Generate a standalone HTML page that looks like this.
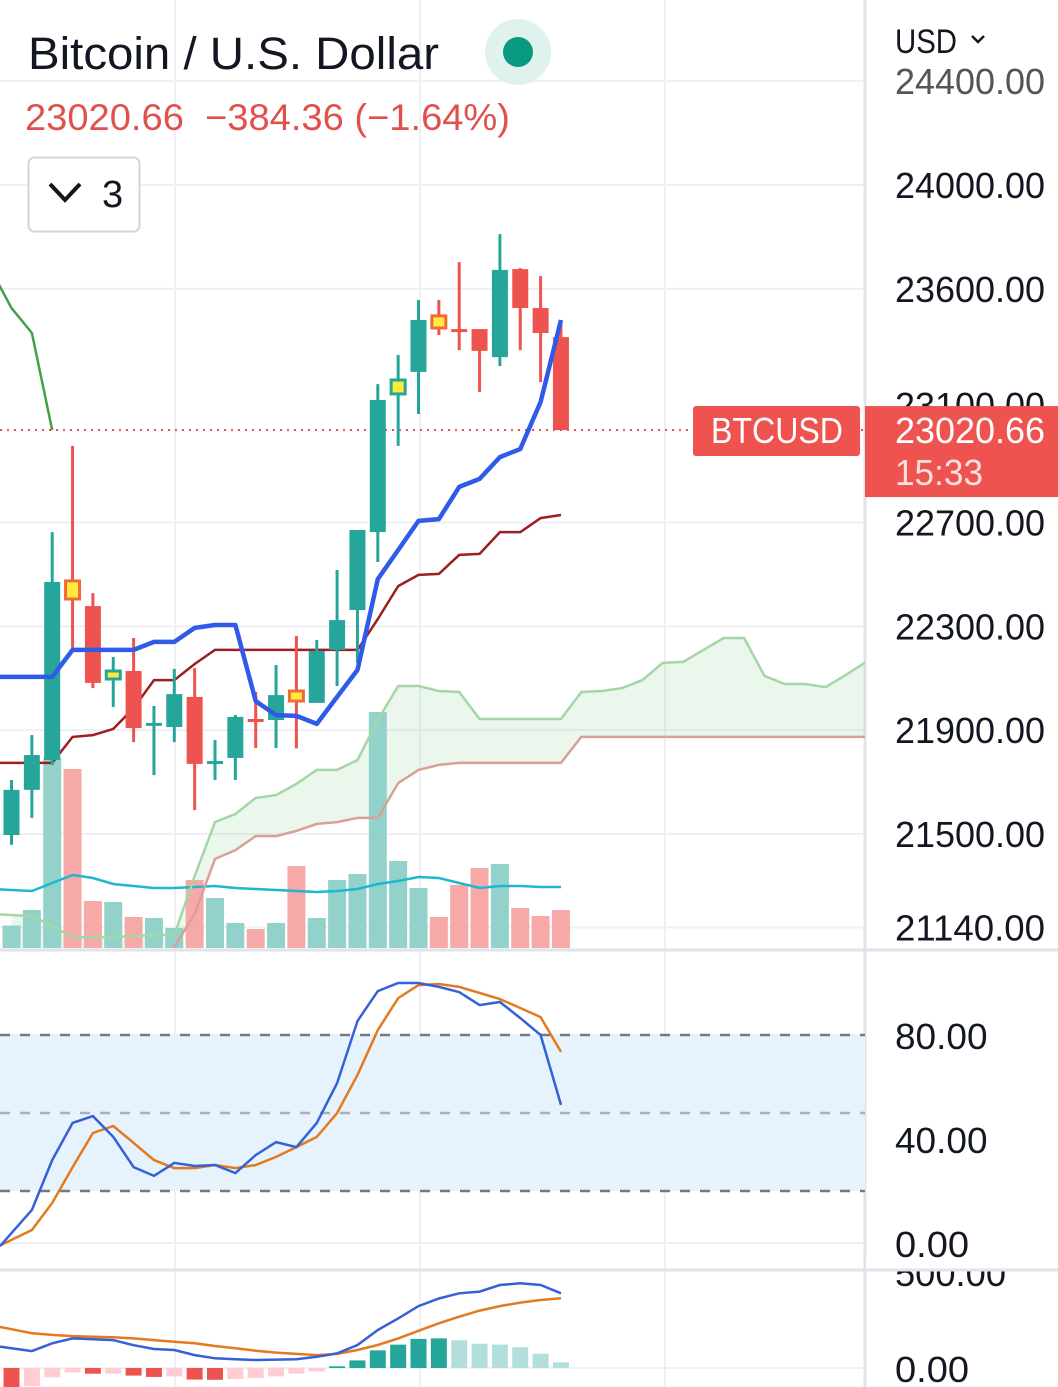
<!DOCTYPE html>
<html><head><meta charset="utf-8"><style>
html,body{margin:0;padding:0;background:#fff;}
svg{display:block;font-family:"Liberation Sans",sans-serif;}
</style></head><body>
<svg id="chart" width="1058" height="1387" viewBox="0 0 1058 1387" xmlns="http://www.w3.org/2000/svg">
<defs>
<clipPath id="pricePane"><rect x="0" y="0" width="865" height="948"/></clipPath>
<clipPath id="stochPane"><rect x="0" y="952" width="865" height="316"/></clipPath>
<clipPath id="macdPane"><rect x="0" y="1272" width="865" height="115"/></clipPath>
</defs>
<g id="grid"></g>
<g id="price" clip-path="url(#pricePane)"></g>
<g id="stoch" clip-path="url(#stochPane)"></g>
<g id="macd" clip-path="url(#macdPane)"></g>
<g id="axis"></g>
<g id="header">
<text x="28" y="69" font-size="45" fill="#131722" textLength="411" lengthAdjust="spacingAndGlyphs">Bitcoin / U.S. Dollar</text>
<circle cx="518" cy="52" r="33" fill="#dff2ee"/>
<circle cx="518" cy="52" r="15" fill="#089981"/>
<text x="25" y="130" font-size="37" fill="#e0504d" textLength="485" lengthAdjust="spacingAndGlyphs" xml:space="preserve">23020.66  −384.36 (−1.64%)</text>
<rect x="28.5" y="157.5" width="111" height="74" rx="6" fill="#fff" stroke="#d1d4dc" stroke-width="2"/>
<polyline points="50,184 65,200 80,184" fill="none" stroke="#131722" stroke-width="4"/>
<text x="102" y="207" font-size="38" fill="#131722">3</text>
</g>
</svg>
<script>
// ---- data ----
const opens  = [21496,21670,21785,22409,22378,22105,22128,21920,21912,22028,21774,21793,21943,21939,22016,22005,22209,22363,22663,23199,23280,23453,23445,23445,23337,23676,23526,23414];
const highs  = [21708,21881,22663,22995,22428,22182,22255,21993,22136,22139,21862,21959,22047,22151,22263,22247,22517,22671,23233,23345,23557,23557,23703,23445,23811,23680,23649,23468];
const lows   = [21458,21562,21766,22209,22062,21989,21854,21727,21854,21592,21708,21708,21831,21831,21830,22005,22070,22159,22548,22995,23118,23422,23364,23203,23303,23364,23241,23056];
const closes = [21670,21804,22471,22471,22082,22124,21908,21928,22039,21770,21781,21951,21935,22035,22047,22205,22324,22671,23172,23245,23480,23492,23441,23361,23673,23526,23430,23056];
const markers = ["", "", "", "orange", "", "green", "", "", "", "", "", "", "", "", "orange", "", "", "", "", "green", "", "orange", "", "", "", "", "", ""];
const volumes = [225,380,1900,1790,470,460,310,300,200,680,500,250,190,250,820,300,680,740,2360,870,600,310,630,800,840,400,320,380];
const volUp   = [1,1,1,0,0,1,0,1,1,0,1,1,0,1,0,1,1,1,1,1,1,0,0,0,1,0,0,0];
const volMA   = [580,570,650,730,700,640,620,600,600,610,620,600,590,580,570,560,570,590,640,670,710,700,650,600,620,620,610,610];
const tenkan  = [22105,22105,22105,22209,22209,22209,22209,22240,22240,22294,22305,22305,22012,21958,21955,21924,22028,22132,22482,22594,22706,22713,22837,22868,22952,22983,23164,23480];
const kijun   = [21774,21774,21774,21874,21881,21905,21985,22093,22093,22155,22209,22209,22209,22209,22209,22209,22209,22209,22328,22455,22498,22502,22575,22579,22663,22663,22717,22729];
const senkouA = [21188,21184,21146,21103,21103,21103,21107,21111,21111,21338,21546,21577,21639,21650,21693,21747,21747,21785,21939,22070,22070,22051,22047,21943,21943,21943,21943,21943,22047,22051,22062,22093,22159,22163,22209,22255,22255,22109,22078,22078,22066,22113,22163];
const senkouB = [20950,20950,20950,20950,20950,20950,20950,20950,21065,21192,21404,21438,21492,21492,21512,21539,21546,21562,21562,21696,21747,21766,21774,21774,21774,21774,21774,21774,21874,21874,21874,21874,21874,21874,21874,21874,21874,21874,21874,21874,21874,21874,21874];
const stochK  = [3.8,12.7,31.9,46.2,48.8,40.8,29.2,25.8,30.8,29.6,30.0,26.9,33.8,38.8,36.9,46.2,61.5,85.4,96.9,100,100,98.5,96.5,91.5,92.7,86.5,80,53.1];
const stochD  = [1.2,5.0,15.4,29.2,42.3,45.0,38.5,31.9,28.8,28.8,30.0,28.8,30.0,33.1,36.9,40.8,50.0,64.6,81.9,94.2,99.2,99.6,98.5,96.2,93.8,90.4,86.9,73.5];
const macdLine= [104,89,130,156,151,147,120,100,95,68,51,46,42,44,46,59,77,121,200,261,326,366,393,402,437,446,437,393];
const signalLine=[204,183,174,168,165,162,156,147,138,130,116,104,91,81,74,68,74,95,121,156,196,235,270,302,326,344,358,367];
const histogram=[-100,-96,-49,-23,-30,-30,-40,-47,-44,-61,-62,-58,-53,-44,-30,-18,9,40,93,123,153,156,146,128,123,109,75,30];
const priceTicks = [24400,24000,23600,22700,22300,21900,21500,21140];
const priceTickLabels = ["24400.00","24000.00","23600.00","22700.00","22300.00","21900.00","21500.00","21140.00"];
const stochTicks = [80,40,0];
const stochTickLabels = ["80.00","40.00","0.00"];
const stochBands = [80,50,20];
const macdTicks = [500,0];
const macdTickLabels = ["500.00","0.00"];
const lastPrice = closes[closes.length - 1];

// ---- scales ----
const NS = "http://www.w3.org/2000/svg";
const xI = i => 11.5 + i * 20.35;
const yP = p => 185 + (24000 - p) * 0.2596;
const yV = v => 948 - v * 0.1;
const yS = v => 1243 - v * 2.6;
const yM = v => 1368 - v * 0.19;
function mk(parent, tag, attrs) {
  const el = document.createElementNS(NS, tag);
  for (const k in attrs) el.setAttribute(k, attrs[k]);
  parent.appendChild(el);
  return el;
}
function pathFrom(arr, ys, off, extend) {
  let d = arr.map((v, i) => (i ? "L" : "M") + xI(i + (off || 0)).toFixed(1) + "," + ys(v).toFixed(1)).join(" ");
  if (extend) {
    // extend from left edge using slope of first segment
    const y0 = ys(arr[0]), y1 = ys(arr[1]);
    const yl = y0 - (y1 - y0) * (xI(0) / 20.35);
    d = "M0," + yl.toFixed(1) + " L" + d.slice(1);
  }
  return d;
}
const grid = document.getElementById("grid");
const price = document.getElementById("price");
const stoch = document.getElementById("stoch");
const macd = document.getElementById("macd");
const axis = document.getElementById("axis");

// grid
[175, 420, 665].forEach(x => {
  const l = mk(grid, "line", {x1: x, x2: x, y1: 0, y2: 1387, stroke: "#eef0f3", "stroke-width": 2});
  
  
});
priceTicks.forEach(p => {
  const l = mk(grid, "line", {x1: 0, x2: 865, y1: yP(p), y2: yP(p), stroke: "#eef0f3", "stroke-width": 2});
  
  
});
stochTicks.forEach(v => {
  const l = mk(grid, "line", {x1: 0, x2: 865, y1: yS(v), y2: yS(v), stroke: "#eef0f3", "stroke-width": 2});
  
  
});
const sep1 = mk(grid, "line", {x1: 0, x2: 1058, y1: 950, y2: 950, stroke: "#e0e3eb", "stroke-width": 3});


const sep2 = mk(grid, "line", {x1: 0, x2: 1058, y1: 1270, y2: 1270, stroke: "#e0e3eb", "stroke-width": 3});


const vsep = mk(grid, "line", {x1: 865, x2: 865, y1: 0, y2: 1387, stroke: "#e0e3eb", "stroke-width": 3});


const mz = mk(grid, "line", {x1: 0, x2: 865, y1: yM(0), y2: yM(0), stroke: "#eef0f3", "stroke-width": 2});



// cloud fill
(function () {
  let d = senkouA.map((v, i) => (i ? "L" : "M") + xI(i) + "," + yP(v)).join(" ");
  for (let i = senkouB.length - 1; i >= 0; i--) d += " L" + xI(i) + "," + yP(senkouB[i]);
  const c = mk(price, "path", {d: d + " Z", fill: "rgba(165,214,167,0.22)"});
  
  
})();

// volume
volumes.forEach((v, i) => {
  const r = mk(price, "rect", {x: xI(i) - 9, y: yV(v), width: 18, height: 948 - yV(v), fill: volUp[i] ? "#92d2ca" : "#f7a9a8"});
  
  
});
const vma = mk(price, "path", {d: pathFrom(volMA, yV, 0, true), fill: "none", stroke: "#1fb7cf", "stroke-width": 2.5});



const sa = mk(price, "path", {d: pathFrom(senkouA, yP, 0, true), fill: "none", stroke: "#a5d6a7", "stroke-width": 2.5});


const sb = mk(price, "path", {d: pathFrom(senkouB, yP), fill: "none", stroke: "#d9a097", "stroke-width": 2.5});



// chikou: closes shifted back 25 periods
const chik = closes.slice(24);
const ch = mk(price, "path", {d: pathFrom(chik, yP, -1), fill: "none", stroke: "#43a047", "stroke-width": 2.5});



const kj = mk(price, "path", {d: pathFrom(kijun, yP, 0, true), fill: "none", stroke: "#9c1f22", "stroke-width": 2.5});



// last price line
const lp = mk(price, "line", {x1: 0, x2: 865, y1: yP(lastPrice), y2: yP(lastPrice), stroke: "#d9534f", "stroke-width": 2, "stroke-dasharray": "2,5"});



// candles
closes.forEach((c, i) => {
  const o = opens[i], up = c >= o;
  const col = up ? "#26a69a" : "#ef5350";
  const g = mk(price, "g", {});
  
  
  mk(g, "line", {x1: xI(i), x2: xI(i), y1: yP(highs[i]), y2: yP(lows[i]), stroke: markers[i] === "orange" ? "#ef5350" : (markers[i] === "green" ? "#26a69a" : col), "stroke-width": 3});
  const top = yP(Math.max(o, c)), bot = yP(Math.min(o, c));
  if (markers[i]) {
    mk(g, "rect", {x: xI(i) - 7, y: top - 1, width: 14, height: Math.max(bot - top, 6) + 2, fill: "#ffeb3b", stroke: markers[i] === "orange" ? "#ef6c3a" : "#26a69a", "stroke-width": 3});
  } else {
    mk(g, "rect", {x: xI(i) - 8, y: top, width: 16, height: Math.max(bot - top, 3), fill: col});
  }
});

const tk = mk(price, "path", {d: pathFrom(tenkan, yP, 0, true), fill: "none", stroke: "#2f5be8", "stroke-width": 4.5, "stroke-linejoin": "round"});



// stochastic
const band = mk(stoch, "rect", {x: 0, y: yS(stochBands[0]), width: 865, height: yS(stochBands[2]) - yS(stochBands[0]), fill: "#e6f3fd"});


stochBands.forEach((v, k) => {
  const l = mk(stoch, "line", {x1: 0, x2: 865, y1: yS(v), y2: yS(v), stroke: k === 1 ? "#aab0b9" : "#737882", "stroke-width": 2.5, "stroke-dasharray": "10,10"});
  
  
});
const sd = mk(stoch, "path", {d: pathFrom(stochD, yS, 0, true), fill: "none", stroke: "#e47a1f", "stroke-width": 2.5});


const sk = mk(stoch, "path", {d: pathFrom(stochK, yS, 0, true), fill: "none", stroke: "#3561d6", "stroke-width": 2.5});



// macd
histogram.forEach((v, i) => {
  const prev = i ? histogram[i - 1] : 0;
  let col;
  if (v >= 0) col = v > prev ? "#26a69a" : "#b2dfdb";
  else col = v < prev ? "#ef5350" : "#ffcdd2";
  const y0 = yM(0), y1 = yM(v);
  const r = mk(macd, "rect", {x: xI(i) - 8, y: Math.min(y0, y1), width: 16, height: Math.abs(y1 - y0), fill: col});
  
  
});
const sg = mk(macd, "path", {d: pathFrom(signalLine, yM, 0, true), fill: "none", stroke: "#e47a1f", "stroke-width": 2.5});


const ml = mk(macd, "path", {d: pathFrom(macdLine, yM, 0, true), fill: "none", stroke: "#3561d6", "stroke-width": 2.5});



// axis labels
function label(parent, x, y, txt, len, opts) {
  const t = mk(parent, "text", Object.assign({x: x, y: y, "font-size": 36, fill: "#131722", textLength: len, lengthAdjust: "spacingAndGlyphs"}, opts || {}));
  t.textContent = txt;
  return t;
}
const usd = label(axis, 895, 53, "USD", 62, {"font-size": 34});


const usdc = mk(axis, "polyline", {points: "972,36 978,42 984,36", fill: "none", stroke: "#131722", "stroke-width": 2.5});


priceTicks.forEach((p, k) => {
  const t = label(axis, 895, yP(p) + 13, priceTickLabels[k], 150, k === 0 ? {fill: "#555"} : {});
  
  
});
const hidden = label(axis, 895, 418, "23100.00", 150);


// macd labels first, then mask, then stoch labels
macdTicks.forEach((v, k) => {
  const t = label(axis, 895, k === 0 ? 1286 : yM(v) + 14, macdTickLabels[k], macdTickLabels[k].length * 18.5);
  
  
});
const cov = mk(axis, "rect", {x: 866, y: 1258, width: 192, height: 12, fill: "#fff"});


stochTicks.forEach((v, k) => {
  const t = label(axis, 895, yS(v) + 14, stochTickLabels[k], stochTickLabels[k].length * 18.5);
  
  
});
const sep3 = mk(axis, "line", {x1: 866, x2: 1058, y1: 1270, y2: 1270, stroke: "#e0e3eb", "stroke-width": 3});



// last price badges
const ly = yP(lastPrice);
const tag = mk(axis, "rect", {x: 693, y: ly - 24, width: 167, height: 50, rx: 3, fill: "#ef5350"});


const tagT = label(axis, 711, ly + 13, "BTCUSD", 132, {fill: "#fff"});


const box = mk(axis, "rect", {x: 865, y: ly - 24, width: 193, height: 91, fill: "#ef5350"});


const bt = label(axis, 895, ly + 13, "23020.66", 150, {fill: "#fff"});


const ct = label(axis, 895, ly + 55, "15:33", 88, {fill: "#fde0df"});


</script>
</body></html>
